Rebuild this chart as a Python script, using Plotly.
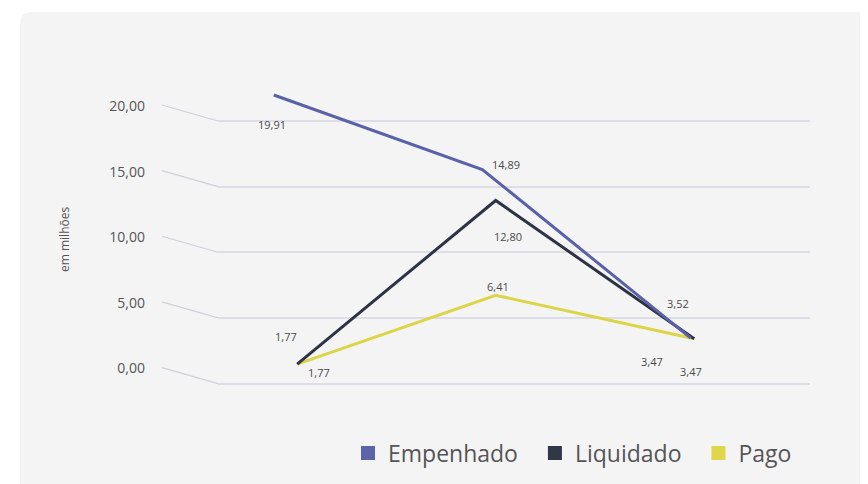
import plotly.graph_objects as go

# ---------------- data ----------------
categories = ["Período 1", "Período 2", "Período 3"]
empenhado = [19.91, 14.89, 3.52]
liquidado = [1.77, 12.80, 3.47]
pago = [1.77, 6.41, 3.47]
y_ticks = [0, 5, 10, 15, 20]

series_names = ["Empenhado", "Liquidado", "Pago"]
colors = {"Empenhado": "#5a61a6", "Liquidado": "#2e3344", "Pago": "#dcd548"}
legend_colors = {"Empenhado": "#5b64a8", "Liquidado": "#303848", "Pago": "#e0d64a"}

W, H = 868, 484
OFF = 8  # page body margin
# plot area in screen pixels
SL, SR, ST, SB = 218, 810, 60, 410
PW, PH = SR - SL, SB - ST

FONT = "Open Sans"
CARD = "#f4f4f5"

def fmt(v):
    return f"{v:.2f}".replace(".", ",")

def px_x(sx):
    return (sx - SL) / PW

def px_y(sy):
    return (SB - sy) / PH

fig = go.Figure()

# lines (Pago, Liquidado, Empenhado so that Empenhado lies on top)
fig.add_trace(go.Scatter(x=categories, y=pago, mode="lines", name="Pago",
                         line=dict(color=colors["Pago"], width=3),
                         xaxis="x", yaxis="y2", showlegend=False, hoverinfo="skip"))
fig.add_trace(go.Scatter(x=categories, y=liquidado, mode="lines", name="Liquidado",
                         line=dict(color=colors["Liquidado"], width=3),
                         xaxis="x", yaxis="y2", showlegend=False, hoverinfo="skip"))
fig.add_trace(go.Scatter(x=categories, y=empenhado, mode="lines", name="Empenhado",
                         line=dict(color=colors["Empenhado"], width=3),
                         xaxis="x2", yaxis="y2", showlegend=False, hoverinfo="skip"))

# legend entries (square swatches)
for n in series_names:
    fig.add_trace(go.Scatter(x=[None], y=[None], mode="markers", name=n + "\u00a0\u00a0",
                             marker=dict(symbol="square", size=14, color=legend_colors[n]),
                             xaxis="x", yaxis="y2", showlegend=True))

# data labels
label_specs = [
    (empenhado, "x2", [(-2, -29), (24, 5), (-13, 35)]),
    (liquidado, "x", [(-11, 28), (12, -36), (-3, -33)]),
    (pago, "x", [(22, -8), (2, 9), (-42, -23)]),
]
annotations = []
for vals, xa, shifts in label_specs:
    for c, v, (dx, dy) in zip(categories, vals, shifts):
        annotations.append(dict(x=c, y=v, xref=xa, yref="y2", text=fmt(v),
                                showarrow=False, xshift=dx, yshift=dy,
                                font=dict(family=FONT, size=11, color="#4a4a4a")))

# axis title
annotations.append(dict(x=px_x(65), y=px_y(240), xref="paper", yref="paper",
                        xanchor="center", yanchor="middle",
                        text="em milhões", textangle=-90, showarrow=False,
                        font=dict(family=FONT, size=12, color="#555555")))

shapes = []
# card background with rounded top-left corner
cx0, cx1 = px_x(20), px_x(W + 10)
cy0, cy1 = px_y(H + 10), px_y(12)
rx, ry = 12 / PW, 12 / PH
shapes.append(dict(type="path", xref="paper", yref="paper", layer="below",
                   path=(f"M {cx0},{cy0} L {cx0},{cy1 - ry} Q {cx0},{cy1} {cx0 + rx},{cy1} "
                         f"L {cx1},{cy1} L {cx1},{cy0} Z"),
                   fillcolor=CARD, line=dict(width=0)))
# side-wall diagonals of gridlines
for t in y_ticks:
    shapes.append(dict(type="line", xref="paper", xsizemode="pixel", xanchor=0,
                       x0=-56, x1=0, yref="y", ysizemode="pixel", yanchor=t,
                       y0=16, y1=0, line=dict(color="#cfd0da", width=1.3)))

# axes geometry (screen pixels)
g0, g20 = 383.5, 121.0
gs = (g0 - g20) / 20
y_range = [(g0 - SB) / gs, (g0 - ST) / gs]
d0, ds = 390.3, 14.83
y2_range = [(d0 - SB) / ds, (d0 - ST) / ds]
x_start, x_step = 297.2, 198.5
x_range = [-(x_start - SL) / x_step, -(x_start - SL) / x_step + PW / x_step]
x2_start, x2_step = 273.8, 208.5
x2_range = [-(x2_start - SL) / x2_step, -(x2_start - SL) / x2_step + PW / x2_step]

fig.update_layout(
    width=W, height=H,
    margin=dict(l=SL - OFF, r=W - (SR - OFF), t=ST - OFF, b=H - (SB - OFF), autoexpand=False),
    paper_bgcolor="#ffffff",
    plot_bgcolor="rgba(0,0,0,0)",
    separators=",.",
    font=dict(family=FONT, color="#555555"),
    xaxis=dict(type="category", categoryarray=categories, range=x_range,
               showgrid=False, zeroline=False, showticklabels=False, showline=False),
    xaxis2=dict(type="category", categoryarray=categories, range=x2_range,
                overlaying="x", showgrid=False, zeroline=False, showticklabels=False,
                showline=False, visible=False),
    yaxis=dict(range=y_range, tickvals=y_ticks, tickformat=".2f",
               showgrid=True, gridcolor="#dcdde6", gridwidth=1.5,
               zeroline=False, showline=False, ticks="",
               ticklabelstandoff=72, ticklabelshift=-15,
               tickfont=dict(family=FONT, size=14, color="#555555")),
    yaxis2=dict(range=y2_range, overlaying="y", visible=False, showgrid=False,
                zeroline=False),
    legend=dict(orientation="h", x=px_x(348), xanchor="left",
                y=px_y(453), yanchor="middle",
                font=dict(family=FONT, size=23, color="#555555"),
                bgcolor="rgba(0,0,0,0)"),
    shapes=shapes,
    annotations=annotations,
    showlegend=True,
)

fig.write_html("out.html")
